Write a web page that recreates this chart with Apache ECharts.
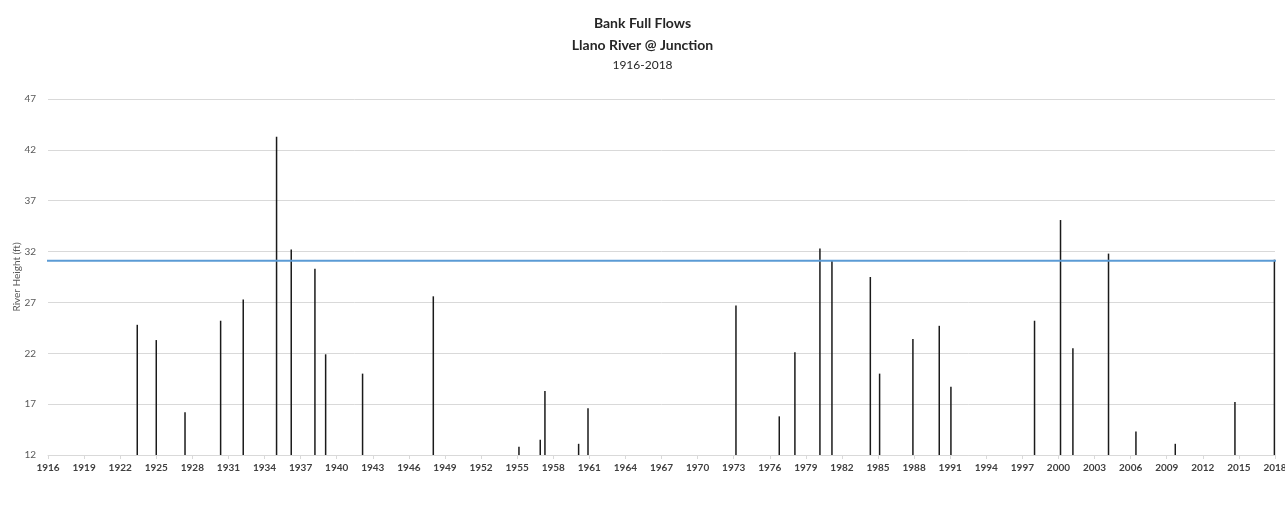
<!DOCTYPE html>
<html>
<head>
<meta charset="utf-8">
<script src="https://cdn.jsdelivr.net/npm/echarts@6/dist/echarts.min.js"></script>
<style>
  html, body { margin: 0; padding: 0; background: #fff; }
  #content { width: 1285px; height: 516px; }
</style>
</head>
<body>
<div id="content"></div>
<script>
// flood events (fractional year, peak river height in ft)
var floodYears = [1923.42, 1925.0, 1927.39, 1930.35, 1932.23, 1935.0, 1936.22, 1938.19, 1939.08, 1942.15,
    1948.03, 1955.15, 1956.92, 1957.31, 1960.11, 1960.89, 1973.19, 1976.79, 1978.09, 1980.17,
    1981.17, 1984.36, 1985.13, 1987.9, 1990.09, 1991.06, 1998.01, 2000.17, 2001.2, 2004.16,
    2006.44, 2009.71, 2014.67, 2017.95];
var riverHeights = [24.8, 23.3, 16.2, 25.2, 27.3, 43.3, 32.2, 30.3, 21.9, 20.0,
    27.6, 12.8, 13.5, 18.3, 13.1, 16.6, 26.7, 15.8, 22.1, 32.3,
    31.1, 29.5, 20.0, 23.4, 24.7, 18.7, 25.2, 35.1, 22.5, 31.8,
    14.3, 13.1, 17.2, 31.2];

// bank full level (blue line)
var bankFullYears = [1915.1, 2018.1];
var bankFullHeight = 31.1;

var titleLines = ['Bank Full Flows', 'Llano River @ Junction', '1916-2018'];

var chart = echarts.init(document.getElementById('content'));

var floodData = floodYears.map(function (y, i) {
    return [y, riverHeights[i]];
});
var bankData = bankFullYears.map(function (y) {
    return [y, bankFullHeight];
});

var font = 'Lato, "Open Sans", sans-serif';

var option = {
    backgroundColor: '#ffffff',
    animation: false,
    title: [
        {
            text: titleLines[0], left: 'center', top: 11,
            textStyle: { fontFamily: font, fontSize: 14, fontWeight: 'bold', color: '#262626' }
        },
        {
            text: titleLines[1], left: 'center', top: 33,
            textStyle: { fontFamily: font, fontSize: 14, fontWeight: 'bold', color: '#262626' }
        },
        {
            text: titleLines[2], left: 'center', top: 54,
            textStyle: { fontFamily: font, fontSize: 12, fontWeight: 'normal', color: '#262626' }
        }
    ],
    grid: { left: 48, right: 10, top: 99, bottom: 61, outerBoundsMode: 'none', containLabel: false },
    xAxis: {
        type: 'value',
        min: 1916,
        max: 2018,
        interval: 3,
        splitLine: { show: false },
        axisLine: { show: true, lineStyle: { color: '#d9d9d9', width: 1 } },
        axisTick: { show: true, length: 4, lineStyle: { color: '#d9d9d9' } },
        axisLabel: {
            color: '#404040', fontFamily: font, fontSize: 10, fontWeight: 'bold', margin: 8,
            formatter: function (v) { return String(Math.round(v)); }
        }
    },
    yAxis: {
        type: 'value',
        min: 12,
        max: 47,
        interval: 5,
        name: 'River Height (ft)',
        nameLocation: 'middle',
        nameGap: 26,
        nameMoveOverlap: false,
        nameTextStyle: { color: '#595959', fontFamily: font, fontSize: 10 },
        axisLine: { show: false },
        axisTick: { show: false },
        axisLabel: { color: '#595959', fontFamily: font, fontSize: 10, margin: 12 },
        splitLine: { lineStyle: { color: '#d9d9d9', width: 1 } }
    },
    series: [
        {
            name: 'Flood',
            type: 'bar',
            data: floodData,
            barWidth: 1.5,
            itemStyle: { color: '#1a1a1a' }
        },
        {
            name: 'Bank Full',
            type: 'line',
            data: bankData,
            symbol: 'none',
            clip: false,
            lineStyle: { color: '#5b9bd5', width: 2 }
        }
    ]
};

chart.setOption(option);
</script>
</body>
</html>
